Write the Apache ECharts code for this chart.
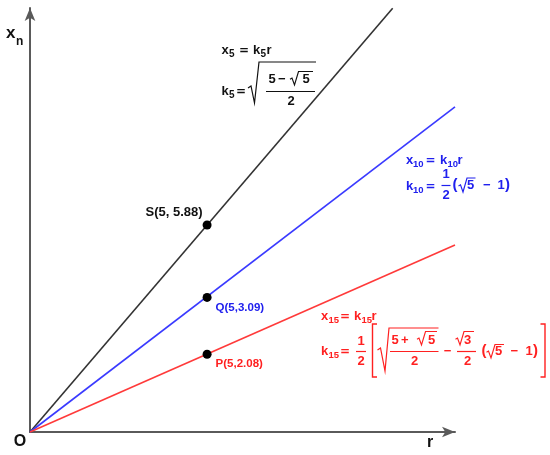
<!DOCTYPE html>
<html><head><meta charset="utf-8">
<script src="https://cdn.jsdelivr.net/npm/echarts@6/dist/echarts.min.js"></script>
<style>html,body{margin:0;padding:0;background:#fff}#c{width:550px;height:455px}</style>
</head><body><div id="c"></div>
<script>
// ---- data ----
const lineNames = ['x5', 'x10', 'x15'];
const lineEndX = [10.24, 12.0, 12.0];
const lineEndY = [11.99, 9.2, 5.29];
const pointX = [5, 5, 5];
const pointY = [5.86, 3.81, 2.20];
const pointLabels = ['S(5, 5.88)', 'Q(5,3.09)', 'P(5,2.08)'];
const axisMax = [12, 12];

const BLACK = '#333333', BLUE = '#3a3aff', RED = '#ff3a3a';
const TBLACK = '#111111', TBLUE = '#2020ee', TRED = '#ff2020';
const FAM = '"Liberation Sans", Arial, sans-serif';
const EQFAM = '"DejaVu Sans", sans-serif';

const chart = echarts.init(document.getElementById('c'), null, {renderer: 'canvas'});
const g = [];
function fnt(sz, fam) { return 'bold ' + sz + 'px ' + (fam || FAM); }
function T(x, y, s, color, sz, align) {
  g.push({type: 'text', x: x, y: y, silent: true,
    style: {text: s, fill: color, font: fnt(sz || 13), align: align || 'left', verticalAlign: 'middle'}});
}
function EQ(x, y, color) {
  g.push({type: 'text', x: x, y: y, silent: true,
    style: {text: '=', fill: color, font: fnt(12, EQFAM), align: 'left', verticalAlign: 'middle'}});
}
function L(pts, color, w) {
  g.push({type: 'polyline', silent: true, shape: {points: pts},
    style: {stroke: color, lineWidth: w || 1.2, fill: null}});
}
function rad(x0, x1, top, bottom, color) {
  const mid = (top + bottom) / 2 + 1;
  L([[x0, mid], [x0 + 2, mid - 1.2], [x0 + 4.5, bottom], [x0 + 8.5, top], [x1, top]], color, 1.15);
}
const M = '\u2212';

// axis titles
T(6, 33, 'x', '#111', 17);
T(16, 42, 'n', '#111', 12);
T(20, 442, 'O', '#111', 16, 'center');
T(430, 443, 'r', '#111', 16, 'center');

// ----- black formula -----
T(221.5, 50.5, 'x', TBLACK); T(229, 54, '5', TBLACK, 10); EQ(239, 51, TBLACK);
T(253, 50.5, 'k', TBLACK); T(260.5, 54, '5', TBLACK, 10); T(266.5, 50.5, 'r', TBLACK);
T(221.5, 91, 'k', TBLACK); T(229, 95, '5', TBLACK, 10); EQ(236, 91.5, TBLACK);
L([[248, 88], [251, 86], [254.5, 103], [259, 62], [316, 62]], TBLACK, 1.2);
T(268.5, 79, '5', TBLACK); T(278, 79, M, TBLACK);
rad(290, 313, 71.5, 85, TBLACK); T(302.5, 79, '5', TBLACK);
L([[266, 91.5], [315, 91.5]], TBLACK, 1.2);
T(291, 101.5, '2', TBLACK, 13, 'center');

// ----- blue formula -----
T(406, 160, 'x', TBLUE); T(413, 164, '10', TBLUE, 9.5); EQ(425.5, 160.5, TBLUE);
T(440, 160, 'k', TBLUE); T(447.5, 164, '10', TBLUE, 9.5); T(457.5, 160, 'r', TBLUE);
T(406, 186, 'k', TBLUE); T(413, 190, '10', TBLUE, 9.5); EQ(425.5, 186.5, TBLUE);
T(446, 174.5, '1', TBLUE, 13, 'center');
L([[441.5, 185.5], [450.5, 185.5]], TBLUE, 1.2);
T(446, 195.5, '2', TBLUE, 13, 'center');
T(452.5, 185, '(', TBLUE, 15);
rad(458.5, 475.5, 178, 192, TBLUE); T(467, 185.5, '5', TBLUE);
T(483, 185.5, M, TBLUE); T(497.5, 185.5, '1', TBLUE); T(505, 185, ')', TBLUE, 15);

// ----- red formula -----
T(321, 316, 'x', TRED); T(328.5, 320, '15', TRED, 9.5); EQ(340, 316.5, TRED);
T(354, 316, 'k', TRED); T(361.5, 320, '15', TRED, 9.5); T(371.5, 316, 'r', TRED);
T(321, 351, 'k', TRED); T(328.5, 355, '15', TRED, 9.5); EQ(340, 351.5, TRED);
T(361, 341, '1', TRED, 13, 'center');
L([[356, 351.5], [366, 351.5]], TRED, 1.2);
T(361, 361.5, '2', TRED, 13, 'center');
L([[377, 324], [372.5, 324], [372.5, 377], [377, 377]], TRED, 1.4);
L([[377.5, 350], [380.5, 348], [385, 371], [389, 328], [438.5, 328]], TRED, 1.2);
T(391.5, 340, '5', TRED); T(401, 340, '+', TRED);
rad(417, 437, 331.5, 345, TRED); T(428, 340, '5', TRED);
L([[390, 351.5], [438.5, 351.5]], TRED, 1.2);
T(414.5, 361.5, '2', TRED, 13, 'center');
T(447.5, 351.5, M, TRED, 13, 'center');
rad(455.5, 474, 331.5, 345, TRED); T(464, 340, '3', TRED);
L([[457, 351.5], [476, 351.5]], TRED, 1.2);
T(467.5, 361.5, '2', TRED, 13, 'center');
T(481.5, 351, '(', TRED, 15);
rad(486.5, 504, 344.5, 358, TRED); T(495, 351.5, '5', TRED);
T(510.5, 351.5, M, TRED); T(525.5, 351.5, '1', TRED); T(533, 351, ')', TRED, 15);
L([[540.5, 324], [545, 324], [545, 377], [540.5, 377]], TRED, 1.4);

const lineColors = [BLACK, BLUE, RED];
const labelColors = [TBLACK, TBLUE, TRED];
const labelPos = [
  {position: 'left', offset: [5, -13], fontSize: 13},
  {position: 'right', offset: [-1, 10], fontSize: 11.5},
  {position: 'right', offset: [-1, 10], fontSize: 11.5}
];
const series = [];
lineNames.forEach((n, i) => {
  series.push({type: 'line', name: n, data: [[0, 0], [lineEndX[i], lineEndY[i]]],
    symbol: 'none', clip: false, lineStyle: {color: lineColors[i], width: 1.6}, z: 2});
});
pointX.forEach((x, i) => {
  series.push({type: 'scatter', data: [[x, pointY[i]]], symbolSize: 9, z: 5,
    itemStyle: {color: '#000', opacity: 1},
    label: {show: true, formatter: pointLabels[i], position: labelPos[i].position,
      offset: labelPos[i].offset, color: labelColors[i], fontSize: labelPos[i].fontSize,
      fontWeight: 'bold', fontFamily: FAM}});
});

const axCommon = {
  type: 'value', min: 0, splitLine: {show: false}, axisTick: {show: false},
  axisLabel: {show: false},
  axisLine: {show: true, onZero: false, symbol: ['none', 'arrow'], symbolSize: [8, 13],
    lineStyle: {color: '#5a5a5a', width: 2}}
};
chart.setOption({
  animation: false,
  backgroundColor: '#fff',
  grid: {left: 30, right: 95, top: 8, bottom: 23, containLabel: false},
  xAxis: Object.assign({}, axCommon, {max: axisMax[0]}),
  yAxis: Object.assign({}, axCommon, {max: axisMax[1]}),
  series: series,
  graphic: g
});
</script></body></html>
